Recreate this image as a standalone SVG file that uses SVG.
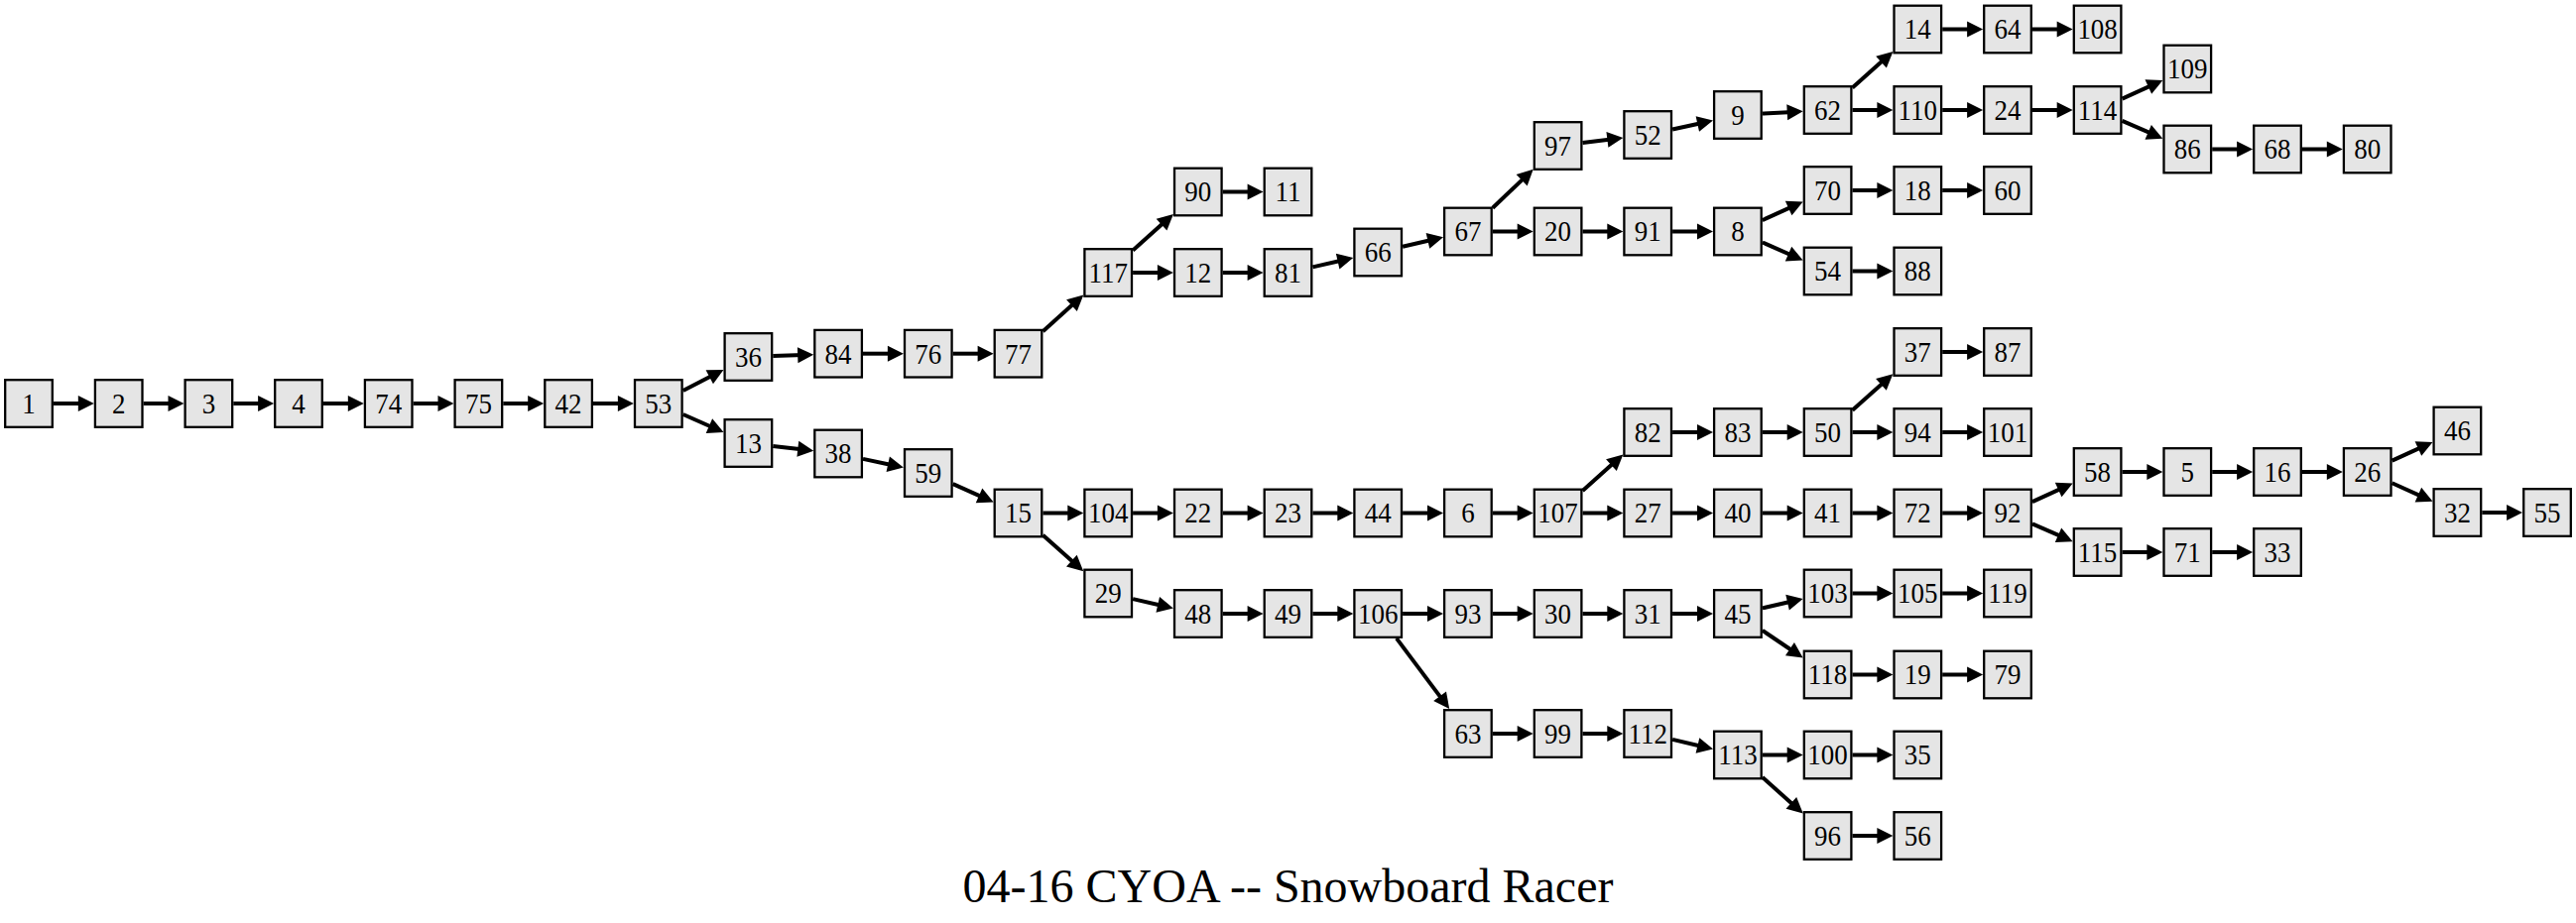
<svg xmlns="http://www.w3.org/2000/svg" width="2597" height="931" viewBox="0 0 2597 931">
<style>
.n rect{fill:#e5e5e5;stroke:#000;stroke-width:2.3}
.n text{font-family:"Liberation Serif","Times New Roman",serif;font-size:29px;text-anchor:middle;fill:#000}
#edges line{stroke:#000;stroke-width:4;marker-end:url(#ah)}
.title{font-family:"Liberation Serif","Times New Roman",serif;font-size:48px;text-anchor:middle;fill:#000}
</style>
<defs>
<marker id="ah" markerUnits="userSpaceOnUse" markerWidth="17" markerHeight="17" refX="6" refY="8" orient="auto" overflow="visible"><path d="M0,0 L16,8 L0,16 z" fill="#000"/></marker>
</defs>
<rect width="2597" height="931" fill="#fff"/>
<g id="edges">
<line x1="53.9" y1="407" x2="84.8" y2="407"/>
<line x1="144.6" y1="407" x2="175.5" y2="407"/>
<line x1="235.3" y1="407" x2="266.1" y2="407"/>
<line x1="325.9" y1="407" x2="356.8" y2="407"/>
<line x1="416.6" y1="407" x2="447.5" y2="407"/>
<line x1="507.3" y1="407" x2="538.2" y2="407"/>
<line x1="598.0" y1="407" x2="628.9" y2="407"/>
<line x1="688.7" y1="394.1" x2="720.6" y2="377.5"/>
<line x1="688.7" y1="418.0" x2="720.4" y2="432.0"/>
<line x1="779.3" y1="359.1" x2="810.2" y2="358.0"/>
<line x1="870.0" y1="356.7" x2="900.9" y2="356.7"/>
<line x1="960.7" y1="356.7" x2="991.6" y2="356.7"/>
<line x1="1051.4" y1="334.3" x2="1084.9" y2="304.1"/>
<line x1="1142.1" y1="252.6" x2="1175.5" y2="222.6"/>
<line x1="1142.1" y1="275" x2="1172.9" y2="275"/>
<line x1="1232.7" y1="193.5" x2="1263.6" y2="193.5"/>
<line x1="1232.7" y1="275" x2="1263.6" y2="275"/>
<line x1="1323.4" y1="269.4" x2="1354.5" y2="262.3"/>
<line x1="1414.1" y1="248.7" x2="1445.3" y2="241.5"/>
<line x1="1504.8" y1="209.75" x2="1538.5" y2="177.6"/>
<line x1="1504.8" y1="233.5" x2="1535.7" y2="233.5"/>
<line x1="1595.5" y1="144.0" x2="1626.4" y2="140.2"/>
<line x1="1686.1" y1="130.5" x2="1717.2" y2="123.7"/>
<line x1="1776.8" y1="114.6" x2="1807.7" y2="112.9"/>
<line x1="1867.5" y1="88.6" x2="1901.0" y2="58.6"/>
<line x1="1867.5" y1="111" x2="1898.4" y2="111"/>
<line x1="1958.2" y1="29.5" x2="1989.1" y2="29.5"/>
<line x1="2048.9" y1="29.5" x2="2079.7" y2="29.5"/>
<line x1="1958.2" y1="111" x2="1989.1" y2="111"/>
<line x1="2048.9" y1="111" x2="2079.7" y2="111"/>
<line x1="2139.5" y1="99.6" x2="2171.3" y2="85.1"/>
<line x1="2139.5" y1="121.85" x2="2171.2" y2="135.7"/>
<line x1="2230.2" y1="150.5" x2="2261.1" y2="150.5"/>
<line x1="2320.9" y1="150.5" x2="2351.8" y2="150.5"/>
<line x1="1595.5" y1="233.5" x2="1626.3" y2="233.5"/>
<line x1="1686.1" y1="233.5" x2="1717.0" y2="233.5"/>
<line x1="1776.8" y1="222.1" x2="1808.6" y2="207.6"/>
<line x1="1776.8" y1="244.5" x2="1808.5" y2="258.5"/>
<line x1="1867.5" y1="192" x2="1898.4" y2="192"/>
<line x1="1958.2" y1="192" x2="1989.1" y2="192"/>
<line x1="1867.5" y1="273.5" x2="1898.4" y2="273.5"/>
<line x1="779.3" y1="449.9" x2="810.3" y2="453.5"/>
<line x1="870.0" y1="462.85" x2="901.1" y2="469.5"/>
<line x1="960.7" y1="488.1" x2="992.5" y2="502.3"/>
<line x1="1051.4" y1="517.5" x2="1082.3" y2="517.5"/>
<line x1="1051.4" y1="539.7" x2="1084.8" y2="569.6"/>
<line x1="1142.1" y1="517.5" x2="1172.9" y2="517.5"/>
<line x1="1232.7" y1="517.5" x2="1263.6" y2="517.5"/>
<line x1="1323.4" y1="517.5" x2="1354.3" y2="517.5"/>
<line x1="1414.1" y1="517.5" x2="1445.0" y2="517.5"/>
<line x1="1504.8" y1="517.5" x2="1535.7" y2="517.5"/>
<line x1="1595.5" y1="495.1" x2="1628.9" y2="465.1"/>
<line x1="1595.5" y1="517.5" x2="1626.3" y2="517.5"/>
<line x1="1686.1" y1="436" x2="1717.0" y2="436"/>
<line x1="1776.8" y1="436" x2="1807.7" y2="436"/>
<line x1="1867.5" y1="413.8" x2="1900.9" y2="383.9"/>
<line x1="1867.5" y1="436" x2="1898.4" y2="436"/>
<line x1="1958.2" y1="355" x2="1989.1" y2="355"/>
<line x1="1958.2" y1="436" x2="1989.1" y2="436"/>
<line x1="1686.1" y1="517.5" x2="1717.0" y2="517.5"/>
<line x1="1776.8" y1="517.5" x2="1807.7" y2="517.5"/>
<line x1="1867.5" y1="517.5" x2="1898.4" y2="517.5"/>
<line x1="1958.2" y1="517.5" x2="1989.1" y2="517.5"/>
<line x1="2048.9" y1="506.1" x2="2080.6" y2="491.6"/>
<line x1="2048.9" y1="528.35" x2="2080.5" y2="542.2"/>
<line x1="2139.5" y1="476" x2="2170.4" y2="476"/>
<line x1="2230.2" y1="476" x2="2261.1" y2="476"/>
<line x1="2320.9" y1="476" x2="2351.8" y2="476"/>
<line x1="2411.6" y1="464.6" x2="2443.4" y2="450.1"/>
<line x1="2411.6" y1="487.3" x2="2443.4" y2="501.6"/>
<line x1="2502.3" y1="517" x2="2533.1" y2="517"/>
<line x1="2139.5" y1="557" x2="2170.4" y2="557"/>
<line x1="2230.2" y1="557" x2="2261.1" y2="557"/>
<line x1="1142.1" y1="604.1" x2="1173.1" y2="611.2"/>
<line x1="1232.7" y1="619" x2="1263.6" y2="619"/>
<line x1="1323.4" y1="619" x2="1354.3" y2="619"/>
<line x1="1414.1" y1="619" x2="1445.0" y2="619"/>
<line x1="1407.9" y1="643.9" x2="1455.2" y2="707.1"/>
<line x1="1504.8" y1="619" x2="1535.7" y2="619"/>
<line x1="1595.5" y1="619" x2="1626.3" y2="619"/>
<line x1="1686.1" y1="619" x2="1717.0" y2="619"/>
<line x1="1776.8" y1="613.4" x2="1807.9" y2="606.3"/>
<line x1="1776.8" y1="635.9" x2="1809.4" y2="658.0"/>
<line x1="1867.5" y1="598.5" x2="1898.4" y2="598.5"/>
<line x1="1958.2" y1="598.5" x2="1989.1" y2="598.5"/>
<line x1="1867.5" y1="680.5" x2="1898.4" y2="680.5"/>
<line x1="1958.2" y1="680.5" x2="1989.1" y2="680.5"/>
<line x1="1504.8" y1="740" x2="1535.7" y2="740"/>
<line x1="1595.5" y1="740" x2="1626.3" y2="740"/>
<line x1="1686.1" y1="745.9" x2="1717.3" y2="753.3"/>
<line x1="1776.8" y1="761.5" x2="1807.7" y2="761.5"/>
<line x1="1867.5" y1="761.5" x2="1898.4" y2="761.5"/>
<line x1="1776.8" y1="783.9" x2="1810.3" y2="813.9"/>
<line x1="1867.5" y1="843" x2="1898.4" y2="843"/>
</g>
<g id="n1" class="n" transform="translate(29.0,407)"><rect x="-23.8" y="-23.8" width="47.6" height="47.6"/><text y="9.8" transform="scale(0.93,1)">1</text></g>
<g id="n2" class="n" transform="translate(119.7,407)"><rect x="-23.8" y="-23.8" width="47.6" height="47.6"/><text y="9.8" transform="scale(0.93,1)">2</text></g>
<g id="n3" class="n" transform="translate(210.4,407)"><rect x="-23.8" y="-23.8" width="47.6" height="47.6"/><text y="9.8" transform="scale(0.93,1)">3</text></g>
<g id="n4" class="n" transform="translate(301.0,407)"><rect x="-23.8" y="-23.8" width="47.6" height="47.6"/><text y="9.8" transform="scale(0.93,1)">4</text></g>
<g id="n74" class="n" transform="translate(391.7,407)"><rect x="-23.8" y="-23.8" width="47.6" height="47.6"/><text y="9.8" transform="scale(0.93,1)">74</text></g>
<g id="n75" class="n" transform="translate(482.4,407)"><rect x="-23.8" y="-23.8" width="47.6" height="47.6"/><text y="9.8" transform="scale(0.93,1)">75</text></g>
<g id="n42" class="n" transform="translate(573.1,407)"><rect x="-23.8" y="-23.8" width="47.6" height="47.6"/><text y="9.8" transform="scale(0.93,1)">42</text></g>
<g id="n53" class="n" transform="translate(663.8,407)"><rect x="-23.8" y="-23.8" width="47.6" height="47.6"/><text y="9.8" transform="scale(0.93,1)">53</text></g>
<g id="n36" class="n" transform="translate(754.4,360)"><rect x="-23.8" y="-23.8" width="47.6" height="47.6"/><text y="9.8" transform="scale(0.93,1)">36</text></g>
<g id="n13" class="n" transform="translate(754.4,447)"><rect x="-23.8" y="-23.8" width="47.6" height="47.6"/><text y="9.8" transform="scale(0.93,1)">13</text></g>
<g id="n84" class="n" transform="translate(845.1,356.7)"><rect x="-23.8" y="-23.8" width="47.6" height="47.6"/><text y="9.8" transform="scale(0.93,1)">84</text></g>
<g id="n38" class="n" transform="translate(845.1,457.5)"><rect x="-23.8" y="-23.8" width="47.6" height="47.6"/><text y="9.8" transform="scale(0.93,1)">38</text></g>
<g id="n76" class="n" transform="translate(935.8,356.7)"><rect x="-23.8" y="-23.8" width="47.6" height="47.6"/><text y="9.8" transform="scale(0.93,1)">76</text></g>
<g id="n59" class="n" transform="translate(935.8,477)"><rect x="-23.8" y="-23.8" width="47.6" height="47.6"/><text y="9.8" transform="scale(0.93,1)">59</text></g>
<g id="n77" class="n" transform="translate(1026.5,356.7)"><rect x="-23.8" y="-23.8" width="47.6" height="47.6"/><text y="9.8" transform="scale(0.93,1)">77</text></g>
<g id="n15" class="n" transform="translate(1026.5,517.5)"><rect x="-23.8" y="-23.8" width="47.6" height="47.6"/><text y="9.8" transform="scale(0.93,1)">15</text></g>
<g id="n117" class="n" transform="translate(1117.2,275)"><rect x="-23.8" y="-23.8" width="47.6" height="47.6"/><text y="9.8" transform="scale(0.93,1)">117</text></g>
<g id="n104" class="n" transform="translate(1117.2,517.5)"><rect x="-23.8" y="-23.8" width="47.6" height="47.6"/><text y="9.8" transform="scale(0.93,1)">104</text></g>
<g id="n29" class="n" transform="translate(1117.2,598.5)"><rect x="-23.8" y="-23.8" width="47.6" height="47.6"/><text y="9.8" transform="scale(0.93,1)">29</text></g>
<g id="n90" class="n" transform="translate(1207.8,193.5)"><rect x="-23.8" y="-23.8" width="47.6" height="47.6"/><text y="9.8" transform="scale(0.93,1)">90</text></g>
<g id="n12" class="n" transform="translate(1207.8,275)"><rect x="-23.8" y="-23.8" width="47.6" height="47.6"/><text y="9.8" transform="scale(0.93,1)">12</text></g>
<g id="n22" class="n" transform="translate(1207.8,517.5)"><rect x="-23.8" y="-23.8" width="47.6" height="47.6"/><text y="9.8" transform="scale(0.93,1)">22</text></g>
<g id="n48" class="n" transform="translate(1207.8,619)"><rect x="-23.8" y="-23.8" width="47.6" height="47.6"/><text y="9.8" transform="scale(0.93,1)">48</text></g>
<g id="n11" class="n" transform="translate(1298.5,193.5)"><rect x="-23.8" y="-23.8" width="47.6" height="47.6"/><text y="9.8" transform="scale(0.93,1)">11</text></g>
<g id="n81" class="n" transform="translate(1298.5,275)"><rect x="-23.8" y="-23.8" width="47.6" height="47.6"/><text y="9.8" transform="scale(0.93,1)">81</text></g>
<g id="n23" class="n" transform="translate(1298.5,517.5)"><rect x="-23.8" y="-23.8" width="47.6" height="47.6"/><text y="9.8" transform="scale(0.93,1)">23</text></g>
<g id="n49" class="n" transform="translate(1298.5,619)"><rect x="-23.8" y="-23.8" width="47.6" height="47.6"/><text y="9.8" transform="scale(0.93,1)">49</text></g>
<g id="n66" class="n" transform="translate(1389.2,254.5)"><rect x="-23.8" y="-23.8" width="47.6" height="47.6"/><text y="9.8" transform="scale(0.93,1)">66</text></g>
<g id="n44" class="n" transform="translate(1389.2,517.5)"><rect x="-23.8" y="-23.8" width="47.6" height="47.6"/><text y="9.8" transform="scale(0.93,1)">44</text></g>
<g id="n106" class="n" transform="translate(1389.2,619)"><rect x="-23.8" y="-23.8" width="47.6" height="47.6"/><text y="9.8" transform="scale(0.93,1)">106</text></g>
<g id="n67" class="n" transform="translate(1479.9,233.5)"><rect x="-23.8" y="-23.8" width="47.6" height="47.6"/><text y="9.8" transform="scale(0.93,1)">67</text></g>
<g id="n6" class="n" transform="translate(1479.9,517.5)"><rect x="-23.8" y="-23.8" width="47.6" height="47.6"/><text y="9.8" transform="scale(0.93,1)">6</text></g>
<g id="n93" class="n" transform="translate(1479.9,619)"><rect x="-23.8" y="-23.8" width="47.6" height="47.6"/><text y="9.8" transform="scale(0.93,1)">93</text></g>
<g id="n63" class="n" transform="translate(1479.9,740)"><rect x="-23.8" y="-23.8" width="47.6" height="47.6"/><text y="9.8" transform="scale(0.93,1)">63</text></g>
<g id="n97" class="n" transform="translate(1570.6,147)"><rect x="-23.8" y="-23.8" width="47.6" height="47.6"/><text y="9.8" transform="scale(0.93,1)">97</text></g>
<g id="n20" class="n" transform="translate(1570.6,233.5)"><rect x="-23.8" y="-23.8" width="47.6" height="47.6"/><text y="9.8" transform="scale(0.93,1)">20</text></g>
<g id="n107" class="n" transform="translate(1570.6,517.5)"><rect x="-23.8" y="-23.8" width="47.6" height="47.6"/><text y="9.8" transform="scale(0.93,1)">107</text></g>
<g id="n30" class="n" transform="translate(1570.6,619)"><rect x="-23.8" y="-23.8" width="47.6" height="47.6"/><text y="9.8" transform="scale(0.93,1)">30</text></g>
<g id="n99" class="n" transform="translate(1570.6,740)"><rect x="-23.8" y="-23.8" width="47.6" height="47.6"/><text y="9.8" transform="scale(0.93,1)">99</text></g>
<g id="n52" class="n" transform="translate(1661.2,136)"><rect x="-23.8" y="-23.8" width="47.6" height="47.6"/><text y="9.8" transform="scale(0.93,1)">52</text></g>
<g id="n91" class="n" transform="translate(1661.2,233.5)"><rect x="-23.8" y="-23.8" width="47.6" height="47.6"/><text y="9.8" transform="scale(0.93,1)">91</text></g>
<g id="n82" class="n" transform="translate(1661.2,436)"><rect x="-23.8" y="-23.8" width="47.6" height="47.6"/><text y="9.8" transform="scale(0.93,1)">82</text></g>
<g id="n27" class="n" transform="translate(1661.2,517.5)"><rect x="-23.8" y="-23.8" width="47.6" height="47.6"/><text y="9.8" transform="scale(0.93,1)">27</text></g>
<g id="n31" class="n" transform="translate(1661.2,619)"><rect x="-23.8" y="-23.8" width="47.6" height="47.6"/><text y="9.8" transform="scale(0.93,1)">31</text></g>
<g id="n112" class="n" transform="translate(1661.2,740)"><rect x="-23.8" y="-23.8" width="47.6" height="47.6"/><text y="9.8" transform="scale(0.93,1)">112</text></g>
<g id="n9" class="n" transform="translate(1751.9,116)"><rect x="-23.8" y="-23.8" width="47.6" height="47.6"/><text y="9.8" transform="scale(0.93,1)">9</text></g>
<g id="n8" class="n" transform="translate(1751.9,233.5)"><rect x="-23.8" y="-23.8" width="47.6" height="47.6"/><text y="9.8" transform="scale(0.93,1)">8</text></g>
<g id="n83" class="n" transform="translate(1751.9,436)"><rect x="-23.8" y="-23.8" width="47.6" height="47.6"/><text y="9.8" transform="scale(0.93,1)">83</text></g>
<g id="n40" class="n" transform="translate(1751.9,517.5)"><rect x="-23.8" y="-23.8" width="47.6" height="47.6"/><text y="9.8" transform="scale(0.93,1)">40</text></g>
<g id="n45" class="n" transform="translate(1751.9,619)"><rect x="-23.8" y="-23.8" width="47.6" height="47.6"/><text y="9.8" transform="scale(0.93,1)">45</text></g>
<g id="n113" class="n" transform="translate(1751.9,761.5)"><rect x="-23.8" y="-23.8" width="47.6" height="47.6"/><text y="9.8" transform="scale(0.93,1)">113</text></g>
<g id="n62" class="n" transform="translate(1842.6,111)"><rect x="-23.8" y="-23.8" width="47.6" height="47.6"/><text y="9.8" transform="scale(0.93,1)">62</text></g>
<g id="n70" class="n" transform="translate(1842.6,192)"><rect x="-23.8" y="-23.8" width="47.6" height="47.6"/><text y="9.8" transform="scale(0.93,1)">70</text></g>
<g id="n54" class="n" transform="translate(1842.6,273.5)"><rect x="-23.8" y="-23.8" width="47.6" height="47.6"/><text y="9.8" transform="scale(0.93,1)">54</text></g>
<g id="n50" class="n" transform="translate(1842.6,436)"><rect x="-23.8" y="-23.8" width="47.6" height="47.6"/><text y="9.8" transform="scale(0.93,1)">50</text></g>
<g id="n41" class="n" transform="translate(1842.6,517.5)"><rect x="-23.8" y="-23.8" width="47.6" height="47.6"/><text y="9.8" transform="scale(0.93,1)">41</text></g>
<g id="n103" class="n" transform="translate(1842.6,598.5)"><rect x="-23.8" y="-23.8" width="47.6" height="47.6"/><text y="9.8" transform="scale(0.93,1)">103</text></g>
<g id="n118" class="n" transform="translate(1842.6,680.5)"><rect x="-23.8" y="-23.8" width="47.6" height="47.6"/><text y="9.8" transform="scale(0.93,1)">118</text></g>
<g id="n100" class="n" transform="translate(1842.6,761.5)"><rect x="-23.8" y="-23.8" width="47.6" height="47.6"/><text y="9.8" transform="scale(0.93,1)">100</text></g>
<g id="n96" class="n" transform="translate(1842.6,843)"><rect x="-23.8" y="-23.8" width="47.6" height="47.6"/><text y="9.8" transform="scale(0.93,1)">96</text></g>
<g id="n14" class="n" transform="translate(1933.3,29.5)"><rect x="-23.8" y="-23.8" width="47.6" height="47.6"/><text y="9.8" transform="scale(0.93,1)">14</text></g>
<g id="n110" class="n" transform="translate(1933.3,111)"><rect x="-23.8" y="-23.8" width="47.6" height="47.6"/><text y="9.8" transform="scale(0.93,1)">110</text></g>
<g id="n18" class="n" transform="translate(1933.3,192)"><rect x="-23.8" y="-23.8" width="47.6" height="47.6"/><text y="9.8" transform="scale(0.93,1)">18</text></g>
<g id="n88" class="n" transform="translate(1933.3,273.5)"><rect x="-23.8" y="-23.8" width="47.6" height="47.6"/><text y="9.8" transform="scale(0.93,1)">88</text></g>
<g id="n37" class="n" transform="translate(1933.3,355)"><rect x="-23.8" y="-23.8" width="47.6" height="47.6"/><text y="9.8" transform="scale(0.93,1)">37</text></g>
<g id="n94" class="n" transform="translate(1933.3,436)"><rect x="-23.8" y="-23.8" width="47.6" height="47.6"/><text y="9.8" transform="scale(0.93,1)">94</text></g>
<g id="n72" class="n" transform="translate(1933.3,517.5)"><rect x="-23.8" y="-23.8" width="47.6" height="47.6"/><text y="9.8" transform="scale(0.93,1)">72</text></g>
<g id="n105" class="n" transform="translate(1933.3,598.5)"><rect x="-23.8" y="-23.8" width="47.6" height="47.6"/><text y="9.8" transform="scale(0.93,1)">105</text></g>
<g id="n19" class="n" transform="translate(1933.3,680.5)"><rect x="-23.8" y="-23.8" width="47.6" height="47.6"/><text y="9.8" transform="scale(0.93,1)">19</text></g>
<g id="n35" class="n" transform="translate(1933.3,761.5)"><rect x="-23.8" y="-23.8" width="47.6" height="47.6"/><text y="9.8" transform="scale(0.93,1)">35</text></g>
<g id="n56" class="n" transform="translate(1933.3,843)"><rect x="-23.8" y="-23.8" width="47.6" height="47.6"/><text y="9.8" transform="scale(0.93,1)">56</text></g>
<g id="n64" class="n" transform="translate(2024.0,29.5)"><rect x="-23.8" y="-23.8" width="47.6" height="47.6"/><text y="9.8" transform="scale(0.93,1)">64</text></g>
<g id="n24" class="n" transform="translate(2024.0,111)"><rect x="-23.8" y="-23.8" width="47.6" height="47.6"/><text y="9.8" transform="scale(0.93,1)">24</text></g>
<g id="n60" class="n" transform="translate(2024.0,192)"><rect x="-23.8" y="-23.8" width="47.6" height="47.6"/><text y="9.8" transform="scale(0.93,1)">60</text></g>
<g id="n87" class="n" transform="translate(2024.0,355)"><rect x="-23.8" y="-23.8" width="47.6" height="47.6"/><text y="9.8" transform="scale(0.93,1)">87</text></g>
<g id="n101" class="n" transform="translate(2024.0,436)"><rect x="-23.8" y="-23.8" width="47.6" height="47.6"/><text y="9.8" transform="scale(0.93,1)">101</text></g>
<g id="n92" class="n" transform="translate(2024.0,517.5)"><rect x="-23.8" y="-23.8" width="47.6" height="47.6"/><text y="9.8" transform="scale(0.93,1)">92</text></g>
<g id="n119" class="n" transform="translate(2024.0,598.5)"><rect x="-23.8" y="-23.8" width="47.6" height="47.6"/><text y="9.8" transform="scale(0.93,1)">119</text></g>
<g id="n79" class="n" transform="translate(2024.0,680.5)"><rect x="-23.8" y="-23.8" width="47.6" height="47.6"/><text y="9.8" transform="scale(0.93,1)">79</text></g>
<g id="n108" class="n" transform="translate(2114.6,29.5)"><rect x="-23.8" y="-23.8" width="47.6" height="47.6"/><text y="9.8" transform="scale(0.93,1)">108</text></g>
<g id="n114" class="n" transform="translate(2114.6,111)"><rect x="-23.8" y="-23.8" width="47.6" height="47.6"/><text y="9.8" transform="scale(0.93,1)">114</text></g>
<g id="n58" class="n" transform="translate(2114.6,476)"><rect x="-23.8" y="-23.8" width="47.6" height="47.6"/><text y="9.8" transform="scale(0.93,1)">58</text></g>
<g id="n115" class="n" transform="translate(2114.6,557)"><rect x="-23.8" y="-23.8" width="47.6" height="47.6"/><text y="9.8" transform="scale(0.93,1)">115</text></g>
<g id="n109" class="n" transform="translate(2205.3,69.5)"><rect x="-23.8" y="-23.8" width="47.6" height="47.6"/><text y="9.8" transform="scale(0.93,1)">109</text></g>
<g id="n86" class="n" transform="translate(2205.3,150.5)"><rect x="-23.8" y="-23.8" width="47.6" height="47.6"/><text y="9.8" transform="scale(0.93,1)">86</text></g>
<g id="n5" class="n" transform="translate(2205.3,476)"><rect x="-23.8" y="-23.8" width="47.6" height="47.6"/><text y="9.8" transform="scale(0.93,1)">5</text></g>
<g id="n71" class="n" transform="translate(2205.3,557)"><rect x="-23.8" y="-23.8" width="47.6" height="47.6"/><text y="9.8" transform="scale(0.93,1)">71</text></g>
<g id="n68" class="n" transform="translate(2296.0,150.5)"><rect x="-23.8" y="-23.8" width="47.6" height="47.6"/><text y="9.8" transform="scale(0.93,1)">68</text></g>
<g id="n16" class="n" transform="translate(2296.0,476)"><rect x="-23.8" y="-23.8" width="47.6" height="47.6"/><text y="9.8" transform="scale(0.93,1)">16</text></g>
<g id="n33" class="n" transform="translate(2296.0,557)"><rect x="-23.8" y="-23.8" width="47.6" height="47.6"/><text y="9.8" transform="scale(0.93,1)">33</text></g>
<g id="n80" class="n" transform="translate(2386.7,150.5)"><rect x="-23.8" y="-23.8" width="47.6" height="47.6"/><text y="9.8" transform="scale(0.93,1)">80</text></g>
<g id="n26" class="n" transform="translate(2386.7,476)"><rect x="-23.8" y="-23.8" width="47.6" height="47.6"/><text y="9.8" transform="scale(0.93,1)">26</text></g>
<g id="n46" class="n" transform="translate(2477.4,434.5)"><rect x="-23.8" y="-23.8" width="47.6" height="47.6"/><text y="9.8" transform="scale(0.93,1)">46</text></g>
<g id="n32" class="n" transform="translate(2477.4,517)"><rect x="-23.8" y="-23.8" width="47.6" height="47.6"/><text y="9.8" transform="scale(0.93,1)">32</text></g>
<g id="n55" class="n" transform="translate(2568.0,517)"><rect x="-23.8" y="-23.8" width="47.6" height="47.6"/><text y="9.8" transform="scale(0.93,1)">55</text></g>
<text class="title" x="1298.5" y="910">04-16 CYOA -- Snowboard Racer</text>
</svg>
